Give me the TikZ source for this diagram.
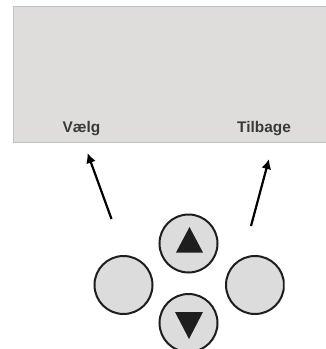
\documentclass[tikz,border=0pt]{standalone}
\usepackage{fontspec}
\setmainfont{Liberation Sans}
\usetikzlibrary{arrows.meta}
\definecolor{screen}{HTML}{DEDDDB}
\definecolor{screenedge}{HTML}{BFC2C2}
\definecolor{btnfill}{HTML}{DCDCDC}
\definecolor{btnedge}{HTML}{1E1E1E}
\definecolor{labeltxt}{HTML}{3A3A3A}
\tikzset{
  softkey/.style={circle,draw=btnedge,fill=btnfill,line width=2pt,minimum size=58pt,inner sep=0pt},
  softlabel/.style={font=\bfseries\fontsize{15.4}{18}\selectfont,text=labeltxt,inner sep=0pt},
  pointer/.style={line width=2.2pt,draw=black,-{Latex[length=10pt,width=10pt]}},
  glyph/.style={fill=btnedge,draw=none}
}
\begin{document}
\begin{tikzpicture}[x=1pt,y=-1pt]
\useasboundingbox (0,0) rectangle (326,349);
\fill[white] (0,0) rectangle (326,349);
\begin{scope}
\clip (0,0) rectangle (326,349);
\fill[screen,draw=screenedge,line width=0.8pt] (13.5,6.5) rectangle (330,142.5);
\node[softlabel] (vaelg) at (81.5,129) {Vælg};
\node[softlabel] (tilbage) at (264,129) {Tilbage};
\coordinate (leftfrom) at (111.5,219);
\coordinate (lefttip) at (87.5,153);
\coordinate (rightfrom) at (251,226);
\coordinate (righttip) at (269,159);
\draw[pointer] (leftfrom) -- (lefttip);
\draw[pointer] (rightfrom) -- (righttip);
\node[softkey] (keyleft) at (123.5,285) {};
\node[softkey] (keyup) at (188.5,243.5) {};
\node[softkey] (keydown) at (188.5,323) {};
\begin{scope}
\clip (200,240) rectangle (284.5,330);
\node[softkey] (keyright) at (255,285) {};
\end{scope}
\fill[glyph] (189.5,227) -- (203,252.5) -- (176,252.5) -- cycle;
\fill[glyph] (175,312) -- (203,312) -- (189,339) -- cycle;
\end{scope}
\end{tikzpicture}
\end{document}
